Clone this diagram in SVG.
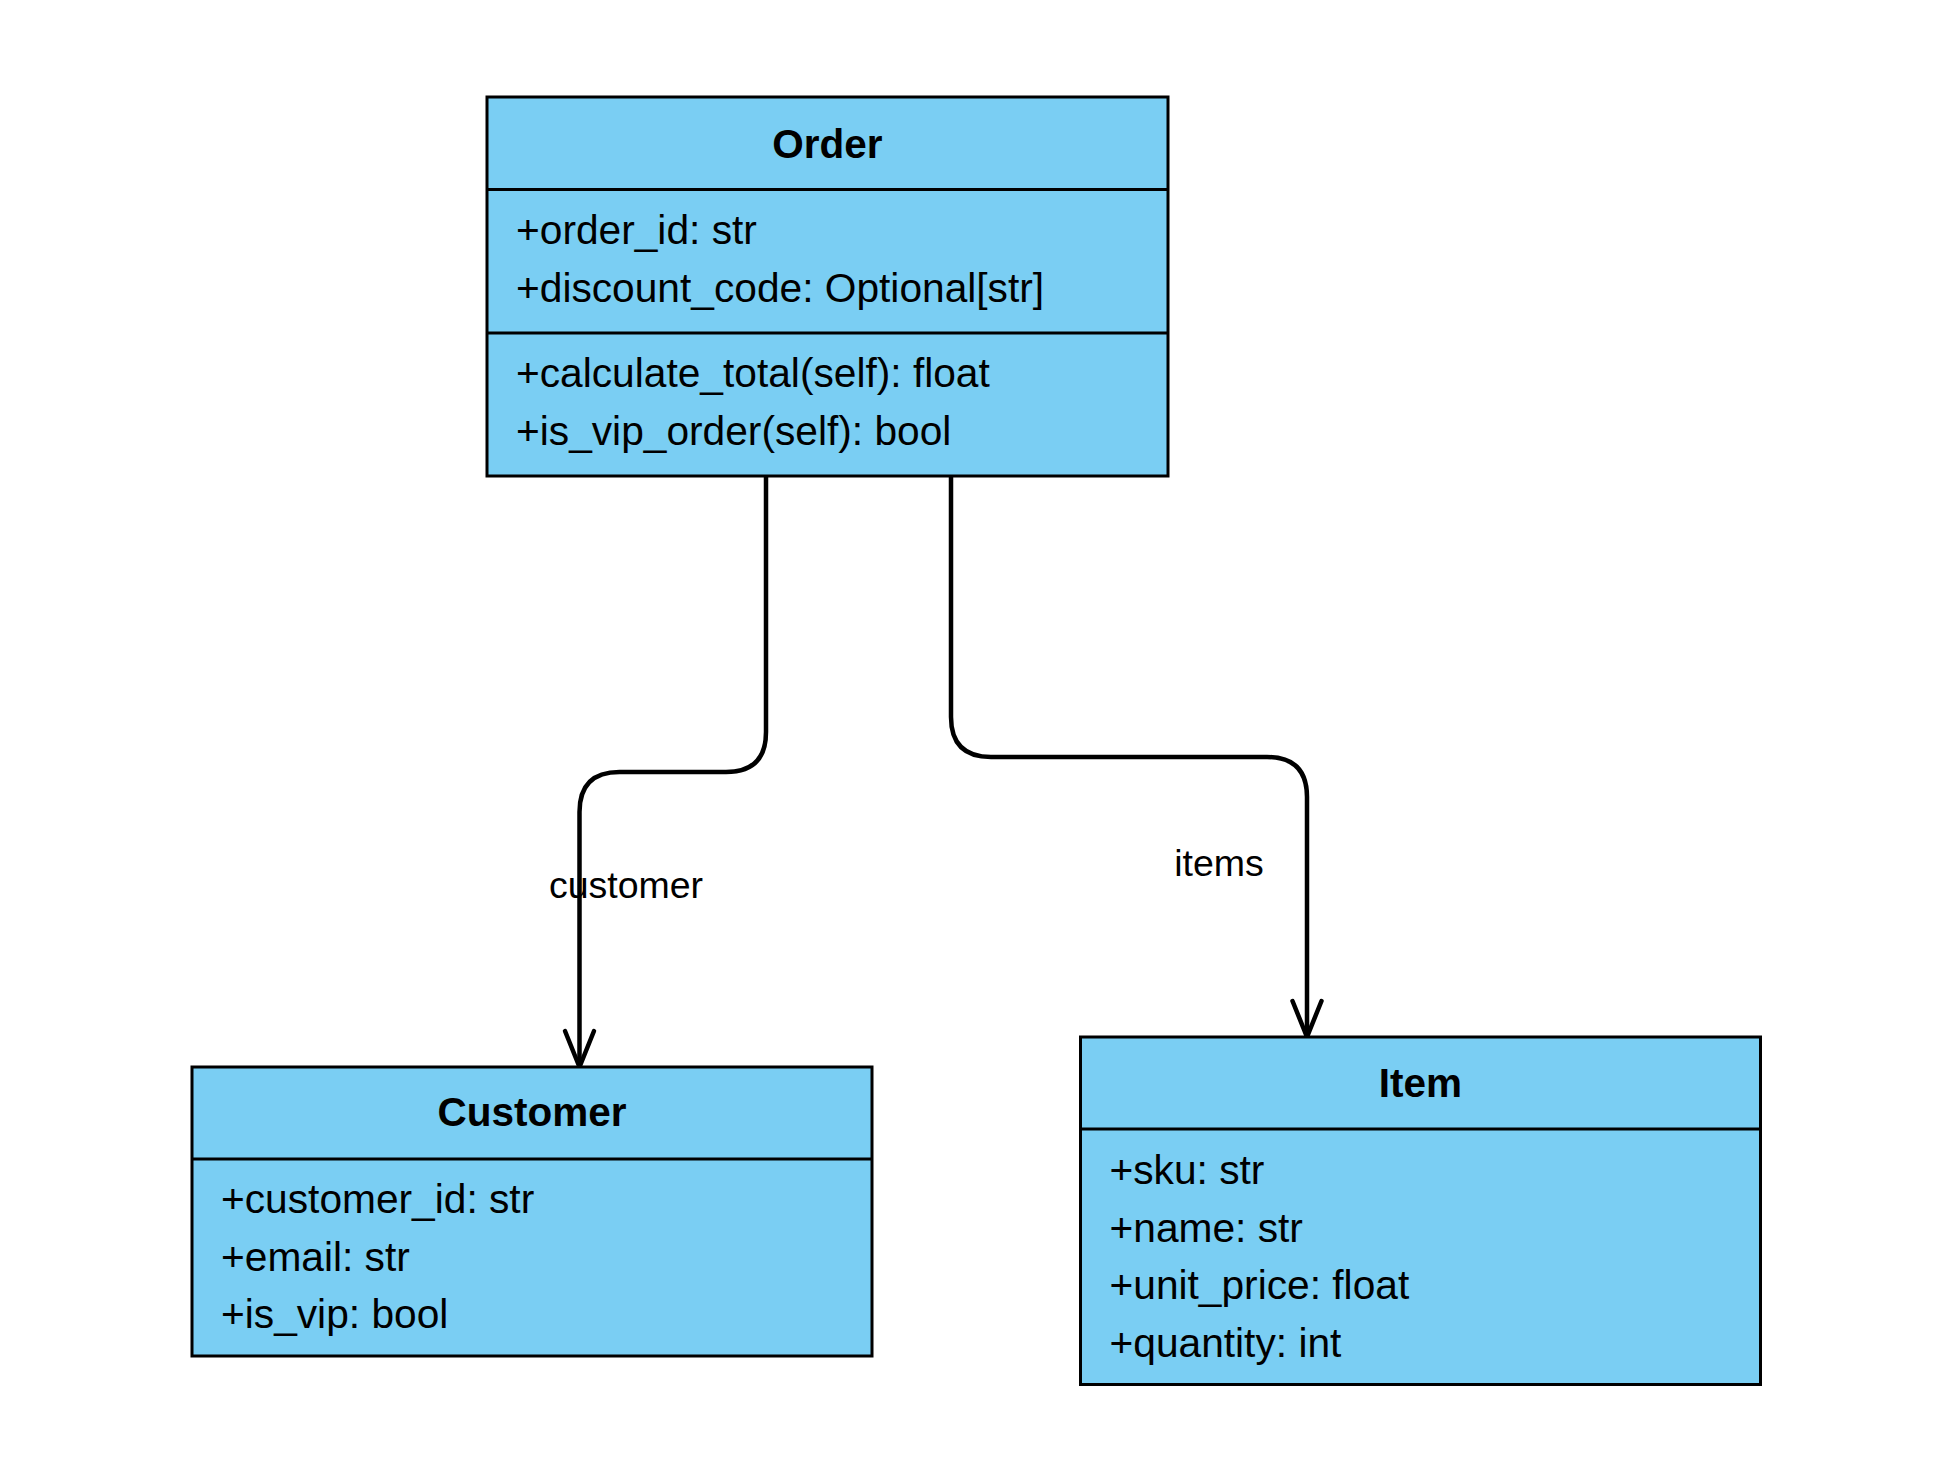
<svg xmlns="http://www.w3.org/2000/svg" width="1954" height="1484" viewBox="0 0 1954 1484">
<style>
.box{fill:#7ACEF3;stroke:#000;stroke-width:3}
.div{stroke:#000;stroke-width:3}
.title{font-family:"Liberation Sans",Arial,Helvetica,sans-serif;font-size:40.5px;font-weight:bold;fill:#000;text-anchor:middle}
.attr{font-family:"Liberation Sans",Arial,Helvetica,sans-serif;font-size:40.7px;fill:#000}
.lbl{font-family:"Liberation Sans",Arial,Helvetica,sans-serif;font-size:37.5px;fill:#000;text-anchor:middle}
.edge{fill:none;stroke:#000;stroke-width:4.5;marker-end:url(#open)}
</style>
<defs>
<marker id="open" markerUnits="userSpaceOnUse" markerWidth="50" markerHeight="40" refX="0" refY="0" orient="auto" overflow="visible">
<path d="M-36,-14.5 L0,0 L-36,14.5" fill="none" stroke="#000" stroke-width="4.5" stroke-linecap="round" stroke-linejoin="miter"/>
</marker>
</defs>
<rect width="1954" height="1484" fill="#fff"/>
<g id="connectors">
<path class="edge" d="M766,476 V732 Q766,772 726,772 H619.5 Q579.5,772 579.5,812 V1067"/>
<path class="edge" d="M951,476 V717 Q951,757 991,757 H1267 Q1307,757 1307,797 V1037"/>
<text class="lbl" x="626" y="898">customer</text>
<text class="lbl" x="1219" y="876">items</text>
</g>
<g id="Order">
<rect class="box" x="487" y="97" width="681" height="379"/>
<line class="div" x1="487" y1="189.5" x2="1168" y2="189.5"/>
<line class="div" x1="487" y1="333" x2="1168" y2="333"/>
<text class="title" x="827.5" y="157.5">Order</text>
<text class="attr" x="516" y="244">+order_id: str</text>
<text class="attr" x="516" y="302">+discount_code: Optional[str]</text>
<text class="attr" x="516" y="387">+calculate_total(self): float</text>
<text class="attr" x="516" y="445">+is_vip_order(self): bool</text>
</g>
<g id="Customer">
<rect class="box" x="192" y="1067" width="680" height="289"/>
<line class="div" x1="192" y1="1159" x2="872" y2="1159"/>
<text class="title" x="532" y="1126">Customer</text>
<text class="attr" x="221" y="1212.5">+customer_id: str</text>
<text class="attr" x="221" y="1270.5">+email: str</text>
<text class="attr" x="221" y="1328">+is_vip: bool</text>
</g>
<g id="Item">
<rect class="box" x="1080.5" y="1037" width="680" height="347.5"/>
<line class="div" x1="1080.5" y1="1129" x2="1760.5" y2="1129"/>
<text class="title" x="1420.5" y="1096.5">Item</text>
<text class="attr" x="1109.5" y="1183.5">+sku: str</text>
<text class="attr" x="1109.5" y="1241.5">+name: str</text>
<text class="attr" x="1109.5" y="1299">+unit_price: float</text>
<text class="attr" x="1109.5" y="1357">+quantity: int</text>
</g>
</svg>
